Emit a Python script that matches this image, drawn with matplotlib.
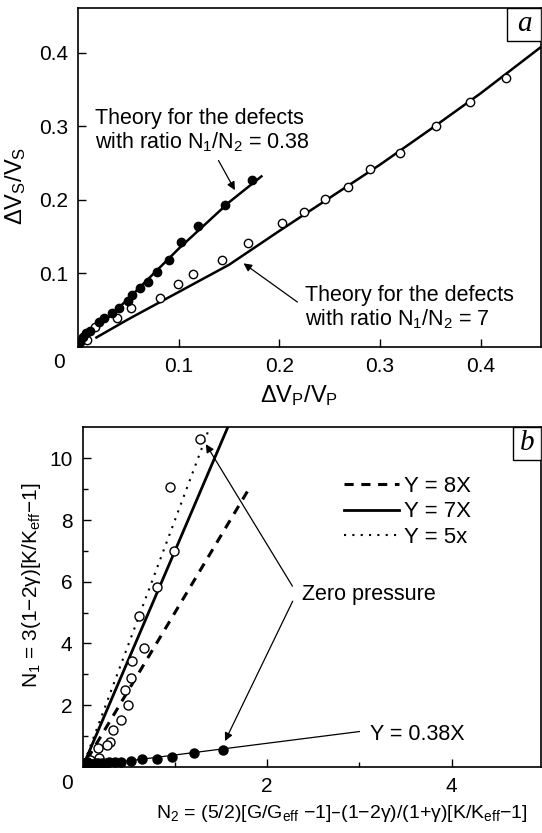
import numpy as np
import matplotlib.pyplot as plt
from matplotlib.lines import Line2D
from matplotlib.patches import Rectangle

plt.rcParams['font.family'] = ['Liberation Sans', 'DejaVu Sans']
plt.rcParams['mathtext.default'] = 'regular'
plt.rcParams['font.size'] = 15

# (a) velocity changes, shear vs compressional
vp_filled = [0.0, 0.002, 0.005, 0.008, 0.012, 0.021, 0.026, 0.033, 0.040, 0.049, 0.053,
             0.061, 0.069, 0.078, 0.090, 0.102, 0.119, 0.146, 0.173]
vs_filled = [0.003, 0.007, 0.014, 0.019, 0.022, 0.034, 0.039, 0.046, 0.053, 0.062, 0.071,
             0.080, 0.089, 0.102, 0.119, 0.143, 0.164, 0.193, 0.227]
vp_open = [0.009, 0.017, 0.038, 0.052, 0.081, 0.099, 0.114, 0.143, 0.169, 0.202, 0.224,
           0.245, 0.268, 0.290, 0.320, 0.356, 0.389, 0.425]
vs_open = [0.0095, 0.027, 0.039, 0.053, 0.067, 0.086, 0.099, 0.119, 0.142, 0.168, 0.183,
           0.201, 0.217, 0.242, 0.264, 0.300, 0.333, 0.366]
th038_x = [0.0, 0.05, 0.10, 0.15, 0.182]
th038_y = [0.002, 0.066, 0.134, 0.197, 0.232]
th7_x = [0.018, 0.05, 0.10, 0.15, 0.20, 0.25, 0.30, 0.35, 0.40, 0.46]
th7_y = [0.013, 0.038, 0.075, 0.112, 0.158, 0.203, 0.248, 0.296, 0.345, 0.408]

# (b) crack densities N1 vs N2
n2_open = [1.27, 0.95, 0.99, 0.81, 0.61, 0.66, 0.53, 0.52, 0.46, 0.49, 0.41, 0.33,
           0.30, 0.26, 0.17, 0.18, 0.08, 0.05]
n1_open = [10.62, 9.08, 7.0, 5.84, 4.89, 3.84, 3.43, 2.89, 2.49, 2.0, 1.51, 1.19,
           0.81, 0.70, 0.60, 0.28, 0.22, 0.15]
n2_filled = [1.52, 1.21, 0.97, 0.81, 0.64, 0.52, 0.42, 0.35, 0.29, 0.25, 0.21, 0.17,
             0.14, 0.11, 0.09, 0.07, 0.05, 0.03, 0.02, 0.01, 0.0, 0.02, 0.05, 0.08]
n1_filled = [0.55, 0.44, 0.33, 0.24, 0.24, 0.20, 0.16, 0.15, 0.14, 0.13, 0.12, 0.12,
             0.11, 0.10, 0.10, 0.09, 0.08, 0.06, 0.04, 0.02, 0.05, 0.12, 0.14, 0.05]
fit_x = [0.0, 3.0]
fit_y = [0.0, 1.14]
dash_x = [0.05, 1.80]
dash_slope = 5.0
solid_x = [0.03, 1.70]
solid_slope = 7.0
dot_x = [0.05, 1.36]
dot_slope = 8.0

fig = plt.figure(figsize=(5.42, 8.33), dpi=100)
ax1 = fig.add_axes([0.1445, 0.5834, 0.8537, 0.407])
ax2 = fig.add_axes([0.1526, 0.0796, 0.8456, 0.4078])

ax1.plot(th038_x, th038_y, 'k-', lw=1.8)
ax1.plot(th7_x, th7_y, 'k-', lw=1.8)
ax1.plot(vp_open, vs_open, 'o', mfc='white', mec='black', ms=6, mew=1)
ax1.plot(vp_filled, vs_filled, 'o', color='black', ms=6)
ax1.set_xlim(0, 0.46)
ax1.set_ylim(0, 0.461)
ax1.set_xticks([0.1, 0.2, 0.3, 0.4])
ax1.set_yticks([0.1, 0.2, 0.3, 0.4])
ax1.set_xlabel(r'$\Delta$V$_P$/V$_P$', fontsize=17)
ax1.set_ylabel(r'$\Delta$V$_S$/V$_S$', fontsize=17)
ax1.xaxis.set_label_coords(0.478, -0.106)
ax1.yaxis.set_label_coords(-0.109, 0.475)
ax1.text(-0.042, -0.046, '0', transform=ax1.transAxes, ha='center', va='center')

ax1.text(0.017, 0.325, 'Theory for the defects\nwith ratio N$_1$/N$_2$ = 0.38',
         ha='left', va='top', linespacing=1.1, fontsize=15.5)
ax1.annotate('', xy=(0.157, 0.210), xytext=(0.138, 0.257),
             arrowprops=dict(arrowstyle='-|>', color='black', lw=0.9,
                             mutation_scale=12))
ax1.text(0.225, 0.085, 'Theory for the defects\nwith ratio N$_1$/N$_2$ = 7',
         ha='left', va='top', linespacing=1.1, fontsize=15.5)
ax1.annotate('', xy=(0.162, 0.116), xytext=(0.220, 0.059),
             arrowprops=dict(arrowstyle='-|>', color='black', lw=0.9,
                             mutation_scale=12))

xs = np.array(dash_x)
ax2.plot(xs, dash_slope * xs, 'k--', lw=2.2, dashes=(3, 2.5))
xs = np.array(solid_x)
ax2.plot(xs, solid_slope * xs, 'k-', lw=2)
xs = np.array(dot_x)
ax2.plot(xs, dot_slope * xs, 'k:', lw=1.5, dashes=(1, 3))
ax2.plot(fit_x, fit_y, 'k-', lw=0.9)
ax2.plot(n2_open, n1_open, 'o', mfc='white', mec='black', ms=6.5, mew=1)
ax2.plot(n2_filled, n1_filled, 'o', color='black', ms=6.5)
ax2.set_xlim(0, 4.97)
ax2.set_ylim(0, 11.02)
ax2.set_xticks([2, 4])
ax2.set_xticks([1, 3], minor=True)
ax2.set_yticks([2, 4, 6, 8, 10])
ax2.set_yticks([1, 3, 5, 7, 9], minor=True)
ax2.set_xlabel('N$_2$ = (5/2)[G/G$_{eff}$ \u22121]\u2013(1\u22122\u03b3)/(1+\u03b3)[K/K$_{eff}$\u22121]',
               fontsize=14, ha='right')
ax2.set_ylabel('N$_1$ = 3(1\u22122\u03b3)[K/K$_{eff}$\u22121]', fontsize=15)
ax2.xaxis.set_label_coords(0.971, -0.108)
ax2.yaxis.set_label_coords(-0.087, 0.535)
ax2.text(-0.035, -0.049, '0', transform=ax2.transAxes, ha='center', va='center')

ax2.text(2.38, 5.57, 'Zero pressure', ha='left', va='center', fontsize=15.5)
ax2.annotate('', xy=(1.32, 10.54), xytext=(2.29, 5.78),
             arrowprops=dict(arrowstyle='-|>', color='black', lw=0.9,
                             mutation_scale=12))
ax2.annotate('', xy=(1.53, 0.75), xytext=(2.29, 5.45),
             arrowprops=dict(arrowstyle='-|>', color='black', lw=0.9,
                             mutation_scale=12))
ax2.text(3.12, 1.03, 'Y = 0.38X', ha='left', va='center', fontsize=15.5)

handles = [Line2D([], [], color='black', ls='--', lw=2.2, dashes=(3, 2.5)),
           Line2D([], [], color='black', ls='-', lw=2),
           Line2D([], [], color='black', ls=':', lw=1.5, dashes=(1, 3))]
ax2.legend(handles, ['Y = 8X', 'Y = 7X', 'Y = 5x'], frameon=False,
           loc='upper left', bbox_to_anchor=(0.526, 0.915), handlelength=2.5,
           handletextpad=0.2, labelspacing=0.2, fontsize=16)

# tag boxes in the upper right corners
tag_boxes = [(ax1, 'a', 0.9265, 0.9035), (ax2, 'b', 0.939, 0.903)]
for ax, tag, bx, by in tag_boxes:
    ax.tick_params(direction='in', length=5.5, width=1, labelsize=15, pad=7.5)
    ax.tick_params(which='minor', direction='in', length=3.5, width=1)
    for s in ax.spines.values():
        s.set_linewidth(1.2)
    ax.add_patch(Rectangle((bx, by), 1 - bx, 1 - by, transform=ax.transAxes,
                           fc='white', ec='black', lw=1, zorder=5))
    ax.text((bx + 1) / 2, (by + 1) / 2, tag, transform=ax.transAxes,
            ha='center', va='center', family='Liberation Serif', style='italic',
            fontsize=21, zorder=6)

fig.savefig('out.png', dpi=100)
